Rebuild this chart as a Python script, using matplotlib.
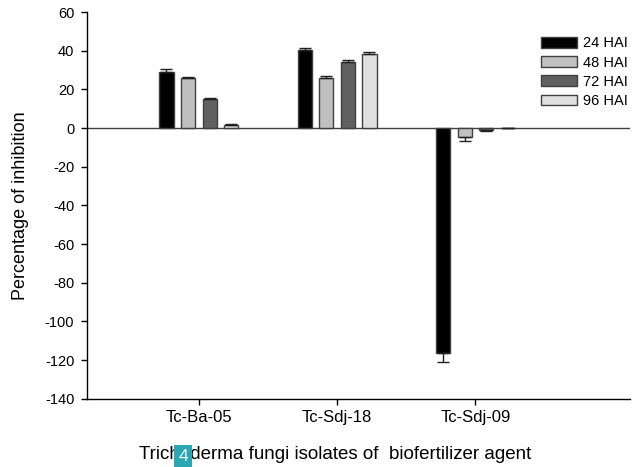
import numpy as np
import matplotlib.pyplot as plt

plt.rcParams['font.family'] = ['Liberation Sans', 'DejaVu Sans']
plt.rcParams['axes.unicode_minus'] = False

isolates = ['Tc-Ba-05', 'Tc-Sdj-18', 'Tc-Sdj-09']
series = ['24 HAI', '48 HAI', '72 HAI', '96 HAI']
hai24 = [29.1, 40.3, -116.2]
hai48 = [26.0, 25.7, -4.5]
hai72 = [15.3, 34.0, -1.1]
hai96 = [1.5, 38.2, 0.0]
err24 = [1.5, 1.2, 5.0]
err48 = [0.5, 1.2, 2.0]
err72 = [0.5, 1.0, 0.3]
err96 = [0.5, 1.0, 0.0]

values = [hai24, hai48, hai72, hai96]
errors = [err24, err48, err72, err96]
colors = ['#000000', '#c0c0c0', '#606060', '#e0e0e0']

fig = plt.figure(figsize=(6.34, 4.67), dpi=100)
ax = fig.add_axes([0.137, 0.146, 0.857, 0.828])

x = np.arange(len(isolates))
w = 0.102
step = 0.156
for i, (vals, errs) in enumerate(zip(values, errors)):
    pos = x + (i - 1.5) * step
    ax.bar(pos, vals, width=w, color=colors[i], edgecolor='#404040',
           linewidth=1.0, label=series[i], zorder=3)
    # error bar only on the outer side of the bar
    lower = [e if v < 0 else 0 for v, e in zip(vals, errs)]
    upper = [e if v >= 0 else 0 for v, e in zip(vals, errs)]
    ax.errorbar(pos, vals, yerr=[lower, upper], fmt='none', ecolor='#202020',
                elinewidth=1.0, capsize=4.5, capthick=1.0, zorder=4)

ax.axhline(0, color='#404040', linewidth=1.0, zorder=2)

ax.set_xlim(-0.81, 3.12)
ax.set_ylim(-140, 60)
ax.set_yticks(np.arange(-140, 61, 20))
ax.set_xticks(x)
ax.set_xticklabels(isolates)
ax.tick_params(axis='both', direction='out', length=4, width=1)
ax.tick_params(axis='y', labelsize=10.5, pad=5)
ax.tick_params(axis='x', labelsize=12, pad=4)
for s in ['top', 'right']:
    ax.spines[s].set_visible(False)
for s in ['left', 'bottom']:
    ax.spines[s].set_linewidth(1.0)

ax.set_ylabel('Percentage of inhibition', fontsize=13)
ax.yaxis.set_label_coords(-0.106, 0.5)

fig.text(0.529, 0.026, 'Trichoderma fungi isolates of  biofertilizer agent',
         fontsize=13.5, ha='center', va='center')

ax.legend(loc='upper left', bbox_to_anchor=(0.853, 0.922), bbox_transform=fig.transFigure,
          frameon=False, fontsize=10.5, borderaxespad=0, borderpad=0,
          handlelength=2.5, handleheight=0.75, labelspacing=0.36, handletextpad=0.4)

# page badge overlapping the axis title, as in the source image
fig.text(0.289, 0.006, '4', color='white', fontsize=12.5, ha='center', va='bottom',
         bbox=dict(boxstyle='square,pad=0.25', facecolor='#2aa7b3', edgecolor='none'))

fig.savefig('out.png', dpi=100)
